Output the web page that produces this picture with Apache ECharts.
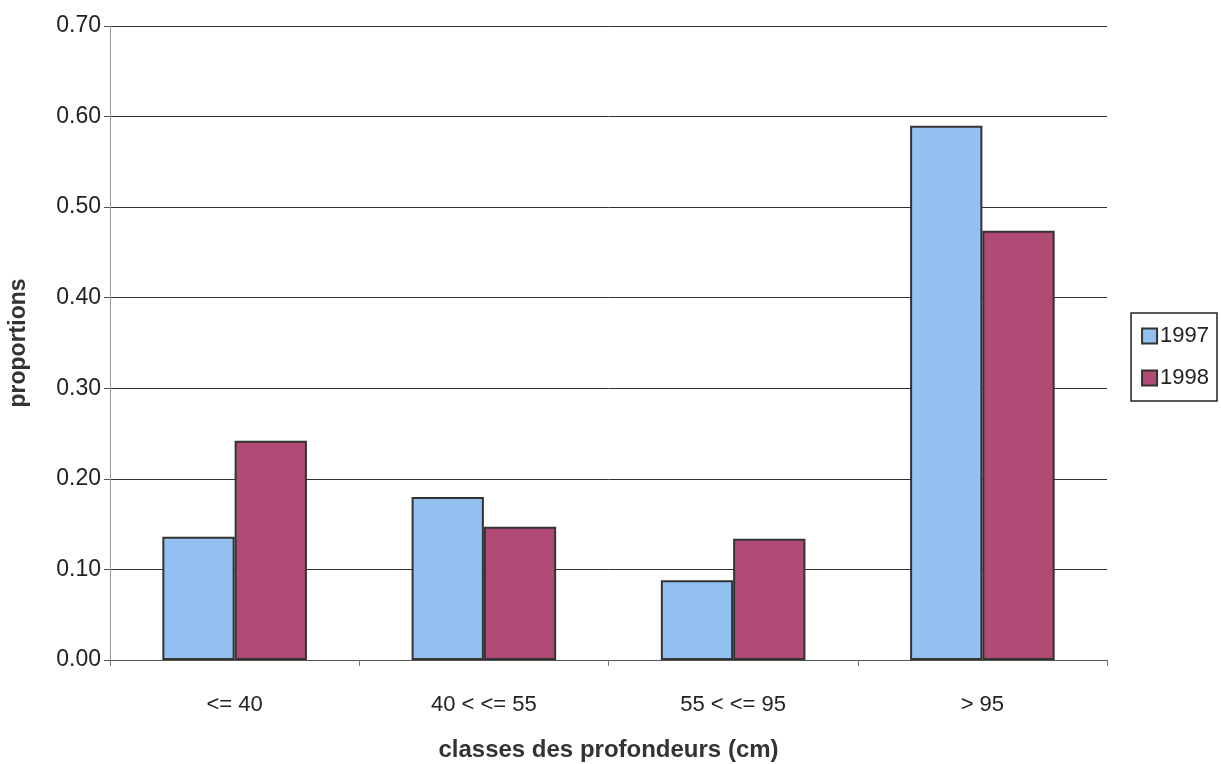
<!DOCTYPE html>
<html><head><meta charset="utf-8">
<script src="https://cdn.jsdelivr.net/npm/echarts@6/dist/echarts.min.js"></script>
<style>html,body{margin:0;padding:0;background:#fff}#c{width:1221px;height:764px}</style>
</head><body><div id="c"></div>
<script>
const categories = ['<= 40', '40 < <= 55', '55 < <= 95', '> 95'];
const series1997 = [0.136, 0.180, 0.088, 0.590];
const series1998 = [0.242, 0.147, 0.134, 0.474];
const seriesNames = ['1997', '1998'];

const chart = echarts.init(document.getElementById('c'));
const font = '"Liberation Sans", Arial, sans-serif';
chart.setOption({
  animation: false,
  backgroundColor: '#fff',
  grid: { left: 110, right: 114, top: 26, bottom: 104, containLabel: false, outerBoundsMode: 'none' },
  legend: {
    orient: 'vertical', right: 4, top: 313,
    data: seriesNames,
    itemWidth: 15, itemHeight: 15, itemGap: 20,
    padding: [12, 8, 12, 10],
    borderColor: '#222', borderWidth: 1.5,
    textStyle: { fontFamily: font, fontSize: 22, color: '#222', padding: [0, 0, 0, -2] },
    icon: 'rect'
  },
  xAxis: {
    type: 'category', data: categories,
    name: 'classes des profondeurs (cm)', nameLocation: 'middle', nameGap: 78,
    nameTextStyle: { fontFamily: font, fontSize: 24, fontWeight: 'bold', color: '#333' },
    axisLine: { lineStyle: { color: '#555', width: 1 } },
    axisTick: { show: true, alignWithLabel: false, length: 6, lineStyle: { color: '#777' } },
    axisLabel: { fontFamily: font, fontSize: 22, color: '#222', margin: 34 }
  },
  yAxis: {
    type: 'value', min: 0, max: 0.7, interval: 0.1,
    name: 'proportions', nameLocation: 'middle', nameGap: 80, nameRotate: 90,
    nameTextStyle: { fontFamily: font, fontSize: 23, fontWeight: 'bold', color: '#333' },
    axisLine: { show: true, lineStyle: { color: '#999', width: 1 } },
    axisTick: { show: true, inside: false, length: 6, lineStyle: { color: '#555' } },
    axisLabel: { fontFamily: font, fontSize: 23, color: '#222', margin: 9,
      formatter: v => v.toFixed(2) },
    splitLine: { lineStyle: { color: '#333', width: 1 } }
  },
  series: [
    { name: seriesNames[0], type: 'bar', data: series1997,
      barGap: '0%', barCategoryGap: '42%',
      itemStyle: { color: '#92c1f2', borderColor: '#333', borderWidth: 2 } },
    { name: seriesNames[1], type: 'bar', data: series1998,
      itemStyle: { color: '#b24a76', borderColor: '#333', borderWidth: 2 } }
  ]
});
</script></body></html>
